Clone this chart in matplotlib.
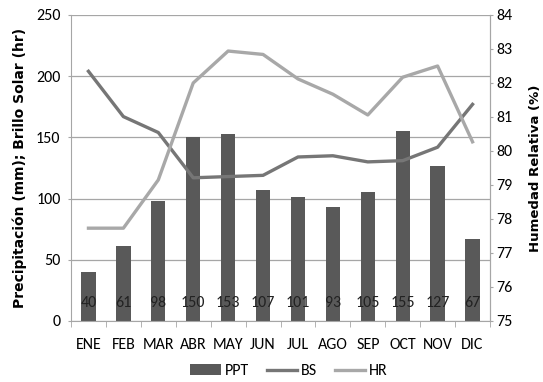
import matplotlib
matplotlib.use("Agg")
import matplotlib.pyplot as plt
import numpy as np

months = ["ENE", "FEB", "MAR", "ABR", "MAY", "JUN", "JUL", "AGO", "SEP", "OCT", "NOV", "DIC"]
ppt = [40, 61, 98, 150, 153, 107, 101, 93, 105, 155, 127, 67]
bs = [204, 167, 154, 117, 118, 119, 134, 135, 130, 131, 142, 177]
hr = [77.73, 77.73, 79.15, 82.0, 82.94, 82.84, 82.12, 81.67, 81.06, 82.17, 82.5, 80.27]

plt.rcParams['font.family'] = ['Carlito', 'DejaVu Sans']
FS = 11.5

fig = plt.figure(figsize=(5.43, 3.82), dpi=100)
ax = fig.add_axes([71/543, 1-321/382, (490-71)/543, (321-15)/382])
x = np.arange(len(months))

bar_c = "#595959"
bs_c = "#767676"
hr_c = "#a8a8a8"
grid_c = "#a6a6a6"

ax.set_axisbelow(True)
ax.yaxis.grid(True, color=grid_c, linewidth=0.9)
bars = ax.bar(x, ppt, width=0.41, color=bar_c, label="PPT", zorder=2)
for xi, v in zip(x, ppt):
    ax.text(xi, 15, str(v), ha="center", va="center", fontsize=FS, color="#222222", zorder=3)
l_bs, = ax.plot(x, bs, color=bs_c, linewidth=2.4, label="BS", zorder=4)
ax.set_ylim(0, 250)
ax.set_xlim(-0.5, 11.5)
ax.set_yticks([0, 50, 100, 150, 200, 250])
ax.set_xticks(x)
ax.set_xticklabels(months)
ax.set_xticks(np.arange(-0.5, 12, 1), minor=True)
ax.tick_params(axis="x", which="major", length=0, pad=12, labelsize=FS)
ax.tick_params(axis="x", which="minor", length=4, color=grid_c, direction="out")
ax.tick_params(axis="y", length=2.5, color=grid_c, labelsize=FS, pad=5)
ax.spines["top"].set_visible(False)
for s in ["left", "bottom", "right"]:
    ax.spines[s].set_color(grid_c)
ax.set_ylabel("Precipitación (mm); Brillo Solar (hr)", fontsize=10, fontweight="bold",
              family="DejaVu Sans")
ax.yaxis.set_label_coords(-0.105, 0.5)

ax2 = ax.twinx()
l_hr, = ax2.plot(x, hr, color=hr_c, linewidth=2.4, label="HR", zorder=3)
ax2.set_ylim(75, 84)
ax2.set_yticks(range(75, 85))
ax2.tick_params(axis="y", length=2.5, color=grid_c, labelsize=FS, pad=2)
for s in ["top", "left", "bottom"]:
    ax2.spines[s].set_visible(False)
ax2.spines["right"].set_color(grid_c)
ax2.set_ylabel("Humedad Relativa (%)", fontsize=9.5, fontweight="bold",
               family="DejaVu Sans")
ax2.yaxis.set_label_coords(1.092, 0.5)

fig.legend(handles=[bars, l_bs, l_hr], labels=["PPT", "BS", "HR"], loc="center",
           bbox_to_anchor=(289/543, 1-371/382), ncol=3, frameon=False, fontsize=FS,
           handlelength=1.9, columnspacing=1.1, handletextpad=0.25)

fig.savefig("out.png", dpi=100)
